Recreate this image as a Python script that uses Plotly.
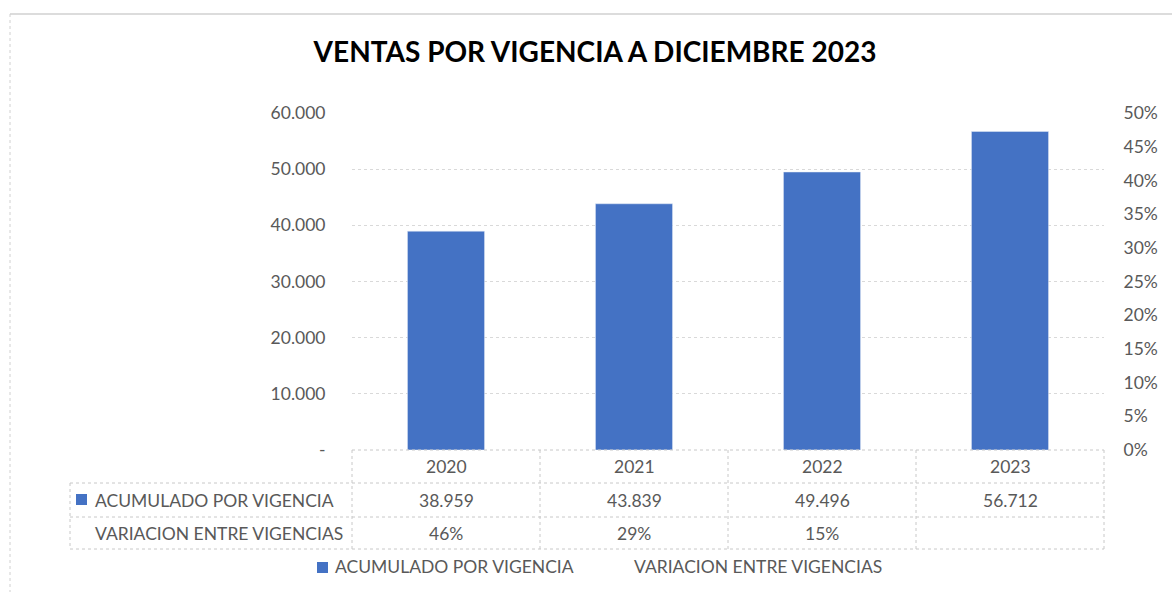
import plotly.graph_objects as go

# Datos
vigencias = ["2020", "2021", "2022", "2023"]
acumulado = [38959, 43839, 49496, 56712]
variacion = [0.46, 0.29, 0.15, None]
y_ticks = [0, 10000, 20000, 30000, 40000, 50000, 60000]
y_tick_labels = ["-", "10.000", "20.000", "30.000", "40.000", "50.000", "60.000"]
y2_ticks = [0, 0.05, 0.10, 0.15, 0.20, 0.25, 0.30, 0.35, 0.40, 0.45, 0.50]
y2_tick_labels = ["0%", "5%", "10%", "15%", "20%", "25%", "30%", "35%", "40%", "45%", "50%"]
serie_1 = "ACUMULADO POR VIGENCIA"
serie_2 = "VARIACION ENTRE VIGENCIAS"
titulo = "VENTAS POR VIGENCIA A DICIEMBRE 2023"

W, H = 1172, 592
ML, MR, MT, MB = 352, 68, 113, 142
PW, PH = W - ML - MR, H - MT - MB

BLUE = "#4472C4"
GRAY = "#595959"
GRID = "#d9d9d9"
BORDER = "#c8c8c8"
FONT = "Lato"


def px(x):
    return (x - ML) / PW


def py(y):
    return (H - MB - y) / PH


fig = go.Figure()
fig.add_trace(go.Bar(
    x=vigencias, y=acumulado, name=serie_1, marker_color=BLUE,
    width=0.41, showlegend=False,
))
# Variation series: no visible marks, only on the secondary axis / table
fig.add_trace(go.Scatter(
    x=vigencias, y=variacion, name=serie_2, yaxis="y2", mode="lines",
    line=dict(color="rgba(0,0,0,0)"), showlegend=False, hoverinfo="skip",
))

shapes = []
annotations = []
n = len(vigencias)
col_w = 1.0 / n

# Table grid lines
row_y = [450, 483, 517, 549]
line_style = dict(color=BORDER, width=1, dash="dot")
x_left = px(70)
shapes.append(dict(type="line", xref="paper", yref="paper", x0=0, x1=1,
                   y0=py(row_y[0]), y1=py(row_y[0]), line=line_style))
for yy in row_y[1:]:
    shapes.append(dict(type="line", xref="paper", yref="paper", x0=x_left, x1=1,
                       y0=py(yy), y1=py(yy), line=line_style))
for i in range(n + 1):
    shapes.append(dict(type="line", xref="paper", yref="paper", x0=i * col_w, x1=i * col_w,
                       y0=py(row_y[0]), y1=py(row_y[-1]), line=line_style))
shapes.append(dict(type="line", xref="paper", yref="paper", x0=x_left, x1=x_left,
                   y0=py(row_y[1]), y1=py(row_y[-1]), line=line_style))

# Chart outer border
shapes.append(dict(type="line", xref="paper", yref="paper", x0=px(10), x1=px(W),
                   y0=py(14), y1=py(14), line=dict(color="#d0d0d0", width=1.5)))
shapes.append(dict(type="line", xref="paper", yref="paper", x0=px(10), x1=px(10),
                   y0=py(14), y1=py(H), line=dict(color="#d0d0d0", width=1, dash="dot")))

FS = 17.5
cell_font = dict(family=FONT, size=FS, color=GRAY)
row_mid = [(row_y[k] + row_y[k + 1]) / 2 for k in range(3)]


def text_at(x, y, text, anchor="center"):
    annotations.append(dict(xref="paper", yref="paper", x=x, y=y, text=text,
                            xanchor=anchor, yanchor="middle", showarrow=False,
                            font=cell_font))


for i, v in enumerate(vigencias):
    xc = (i + 0.5) * col_w
    text_at(xc, py(row_mid[0]), v)
    text_at(xc, py(row_mid[1]), f"{acumulado[i]:,}".replace(",", "."))
    if variacion[i] is not None:
        text_at(xc, py(row_mid[2]), f"{round(variacion[i] * 100)}%")

# Row labels
shapes.append(dict(type="rect", xref="paper", yref="paper", x0=px(76), x1=px(87),
                   y0=py(505), y1=py(494), fillcolor=BLUE, line=dict(width=0)))
text_at(px(93), py(row_mid[1]), serie_1, "left")
text_at(px(93), py(row_mid[2]), serie_2, "left")

# Legend
shapes.append(dict(type="rect", xref="paper", yref="paper", x0=px(317), x1=px(328),
                   y0=py(573), y1=py(562), fillcolor=BLUE, line=dict(width=0)))
text_at(px(333), py(566), serie_1, "left")
text_at(px(632), py(566), serie_2, "left")

fig.update_layout(
    width=W, height=H,
    margin=dict(l=ML, r=MR, t=MT, b=MB, pad=0),
    paper_bgcolor="white", plot_bgcolor="white",
    title=dict(text=f"<b>{titulo}</b>", xref="paper", x=px(595), xanchor="center",
               yref="container", y=1 - 52 / H, yanchor="middle",
               font=dict(family=FONT, size=28, color="#000000")),
    xaxis=dict(type="category", range=[-0.5, n - 0.5], showticklabels=False, showgrid=False,
               zeroline=False, showline=False, ticks=""),
    yaxis=dict(range=[0, 60000], tickvals=y_ticks, ticktext=y_tick_labels,
               showgrid=True, gridcolor=GRID, griddash="dot", gridwidth=1, zeroline=False,
               tickfont=dict(family=FONT, size=FS, color=GRAY), ticks="outside",
               ticklen=22, tickcolor="rgba(0,0,0,0)"),
    yaxis2=dict(range=[0, 0.5], tickvals=y2_ticks, ticktext=y2_tick_labels, overlaying="y",
                side="right", showgrid=False, zeroline=False,
                tickfont=dict(family=FONT, size=FS, color=GRAY), ticks="outside",
                ticklen=15, tickcolor="rgba(0,0,0,0)"),
    shapes=shapes, annotations=annotations,
    showlegend=False,
)

fig.write_html("out.html")
